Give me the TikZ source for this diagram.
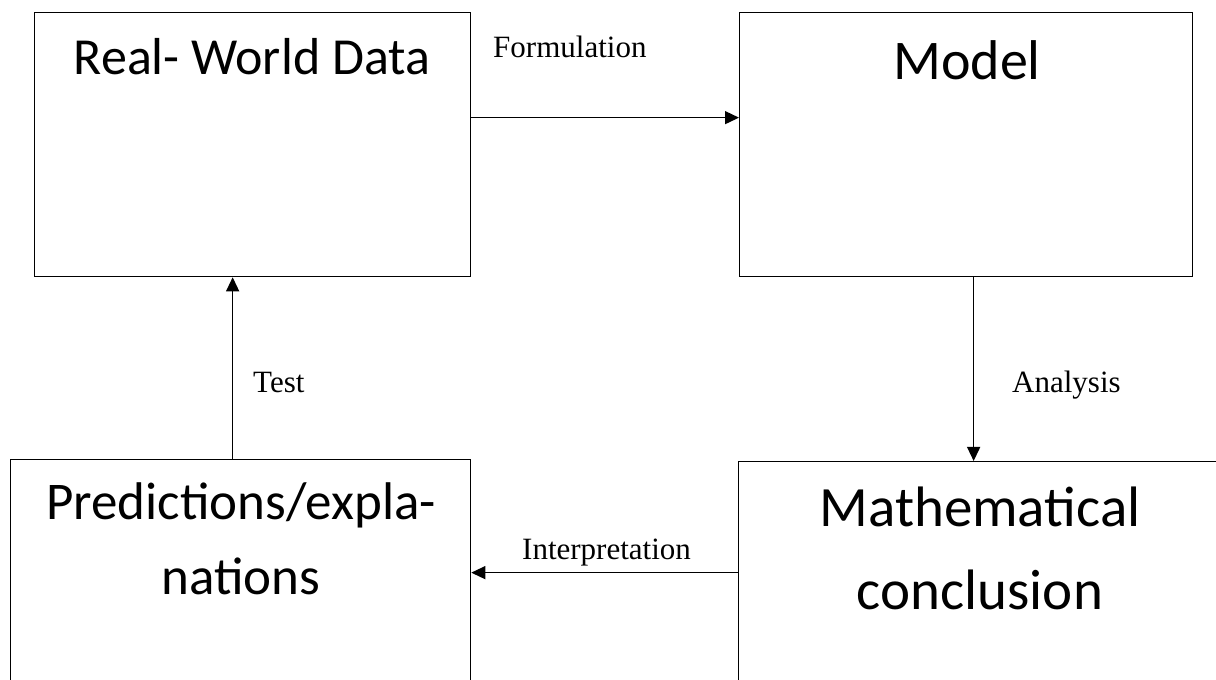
\documentclass[tikz,border=0pt]{standalone}
\usepackage{fontspec}
\setmainfont{Liberation Serif}
\newfontfamily\boxfont{Carlito}
\usetikzlibrary{arrows.meta}

\tikzset{
  stage/.style={draw, line width=1.3pt, anchor=north west, inner sep=0pt},
  stagetext/.style={anchor=base, inner sep=0pt},
  flow/.style={line width=1.3pt, -{Triangle[length=14pt,width=13pt]}},
  flowlabel/.style={anchor=base west, inner sep=0pt, font=\fontsize{31}{36}\selectfont},
}

\begin{document}
\begin{tikzpicture}[x=1pt,y=1pt]
    \clip (0,0) rectangle (1216,680);
    % the four stages
    \node[stage, minimum width=436pt, minimum height=264pt] (data) at (34,668) {};
    \node[stage, minimum width=453pt, minimum height=264pt] (model) at (739,668) {};
    \node[stage, minimum width=460pt, minimum height=262pt] (pred) at (10,221) {};
    \node[stage, minimum width=484pt, minimum height=262pt] (concl) at (738,219) {};
    \node[stagetext, font=\boxfont\fontsize{52}{60}\selectfont] (datatext) at (252,605) {Real- World Data};
    \node[stagetext, font=\boxfont\fontsize{56}{64}\selectfont] (modeltext) at (967,600) {Model};
    \node[stagetext, font=\boxfont\fontsize{53}{61}\selectfont] (predtext) at (241,160) {Predictions/expla-};
    \node[stagetext, font=\boxfont\fontsize{53}{61}\selectfont] (predtexttwo) at (241,85) {nations};
    \node[stagetext, font=\boxfont\fontsize{57}{65}\selectfont] (concltext) at (980,153) {Mathematical};
    \node[stagetext, font=\boxfont\fontsize{57}{65}\selectfont] (concltexttwo) at (980,70) {conclusion};
    % the cycle
    \draw[flow] ([yshift=27pt]data.east) -- ([yshift=27pt]model.west);
    \draw[flow] ([xshift=7.5pt]model.south) -- ([xshift=-7pt]concl.north);
    \draw[flow] ([yshift=20pt]concl.west) -- ([yshift=18pt]pred.east);
    \draw[flow] ([xshift=-8pt]pred.north) -- ([xshift=-20pt]data.south);
    \node[flowlabel] (formulation) at (493,622) {Formulation};
    \node[flowlabel] (analysis) at (1012,287) {Analysis};
    \node[flowlabel] (interpretation) at (522,120) {Interpretation};
    \node[flowlabel] (test) at (253,287) {Test};
\end{tikzpicture}
\end{document}
